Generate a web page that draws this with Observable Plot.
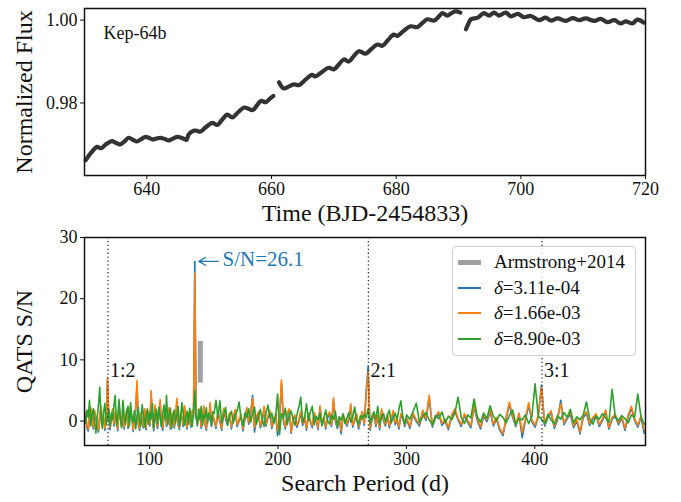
<!DOCTYPE html>
<html>
<head>
<meta charset="utf-8">
<script src="https://cdn.jsdelivr.net/npm/d3@7"></script>
<script src="https://cdn.jsdelivr.net/npm/@observablehq/plot@0.6"></script>
<style>
  html, body { margin: 0; padding: 0; background: #fff; }
  #fig { position: relative; width: 681px; height: 502px; overflow: hidden; font-family: "Liberation Serif", serif; }
  #fig > svg, #fig > figure { position: absolute; left: 0; margin: 0; }
  #legend {
    position: absolute; left: 452px; top: 246px; width: 184px; height: 110px;
    box-sizing: border-box; border: 1px solid #d0d0d0; border-radius: 4px;
    background: rgba(255,255,255,0.8); font-size: 19px; color: #111;
  }
  .row { position: absolute; left: 0; height: 24px; line-height: 24px; white-space: nowrap; }
  .swatch { position: absolute; left: 5px; width: 23px; }
  .label { position: absolute; left: 41px; top: 0; }
</style>
</head>
<body>
<div id="fig"></div>
<script>
// ---- Light curve of Kepler-64 (three continuous stretches) ----
const seg1Time = [630.2,630.8,631.4,632.0,632.7,633.5,634.4,635.0,635.7,636.4,637.1,637.8,638.4,639.1,639.8,640.3,640.9,641.5,642.2,642.9,643.5,644.2,644.9,645.5,646.0,646.4,646.7,647.5,648.0,648.6,649.5,650.5,651.3,652.1,652.9,653.7,654.6,655.6,656.3,657.0,657.7,658.3,659.1,659.7,660.3];
const seg1Flux = [0.9662,0.9675,0.9686,0.9694,0.9691,0.9701,0.9708,0.9704,0.9700,0.9707,0.9716,0.9711,0.9707,0.9713,0.9718,0.9716,0.9712,0.9714,0.9716,0.9713,0.9710,0.9714,0.9718,0.9716,0.9713,0.9711,0.9724,0.9733,0.9733,0.9731,0.9742,0.9752,0.9747,0.9760,0.9772,0.9765,0.9777,0.9789,0.9786,0.9783,0.9795,0.9805,0.9802,0.9810,0.9817];
const seg2Time = [661.2,661.6,662.0,662.8,663.6,664.4,665.5,666.5,667.0,668.1,669.2,670.0,670.8,671.6,672.4,673.2,674.0,675.1,676.0,677.0,677.8,678.7,679.6,680.2,681.2,682.3,683.4,684.2,685.0,686.1,686.8,687.4,688.2,688.8,689.5,690.3];
const seg2Flux = [0.9850,0.9840,0.9835,0.9840,0.9845,0.9843,0.9857,0.9868,0.9864,0.9875,0.9885,0.9881,0.9893,0.9905,0.9900,0.9913,0.9925,0.9919,0.9930,0.9941,0.9938,0.9952,0.9965,0.9962,0.9974,0.9985,0.9983,0.9993,1.0002,0.9999,1.0008,1.0017,1.0011,1.0016,1.0021,1.0018];
const seg3Time = [691.2,691.6,692.0,693.1,694.1,694.9,695.7,696.5,697.6,698.4,699.5,700.5,701.6,702.9,704.0,704.8,705.9,707.2,708.3,709.4,710.4,711.8,712.8,713.9,715.0,716.0,716.8,717.9,718.7,719.7];
const seg3Flux = [0.9978,0.9992,1.0002,1.0006,1.0017,1.0011,1.0018,1.0011,1.0018,1.0009,1.0015,1.0007,1.0010,1.0000,1.0006,0.9999,1.0004,0.9998,1.0005,1.0000,1.0004,0.9998,1.0003,0.9995,1.0000,0.9992,0.9997,0.9992,1.0001,0.9994];

const timeTicks = [640, 660, 680, 700, 720];
const fluxTicks = [0.98, 1.00];

// ---- QATS search: S/N versus search period for three depths ----
// The search grid is finer at short periods: 1 d below 150 d, 1.5 d to 300 d, 2.5 d beyond.
const gridPieces = [[49.2, 150, 1], [150.2, 300, 1.5], [300.2, 486, 2.5]];
const depthLabels = ["3.11e-04", "1.66e-03", "8.90e-03"];
const depthColors = ["#1f77b4", "#ff7f0e", "#2ca02c"];

const snDepth1 = [
  // 49.2 – 149.2 d
  0.2,1.1,-1.1,-1.6,0.6,1.9,0.0,-1.3,1.4,0.3,
  -1.0,-1.8,0.8,2.1,-0.5,0.5,-1.5,0.1,6.5,0.7,
  -1.4,0.3,1.7,-0.8,1.2,-0.1,-1.6,2.4,0.6,-0.9,
  1.0,-1.3,0.2,1.6,-1.2,-0.5,2.0,0.4,-1.7,0.7,
  1.8,6.0,-0.6,-1.5,1.1,0.1,-1.1,1.7,-1.4,0.6,
  1.3,-0.8,4.4,0.5,-1.6,2.3,-0.2,-1.2,0.9,3.0,
  -0.7,-1.5,0.6,1.5,-0.9,0.0,1.9,-1.3,0.3,1.1,
  -1.1,0.2,3.2,-0.6,-1.4,1.2,0.4,-0.9,2.2,-0.1,
  -1.3,1.0,0.1,-1.0,1.5,0.6,26.1,0.9,-0.8,0.5,
  1.7,-1.2,0.0,2.2,-0.7,-1.5,0.8,0.2,2.6,-0.9,0.7,
  // 150.2 – 298.7 d
  0.1,-1.2,1.3,-0.1,-1.5,1.8,0.3,-0.7,1.0,-1.3,
  0.5,1.6,-0.9,0.0,0.8,-1.6,0.2,1.9,-0.5,1.1,
  4.2,-1.8,0.4,1.2,-1.1,-0.1,2.1,-0.8,0.6,1.4,
  -1.2,0.1,0.9,-2.4,0.3,6.2,0.0,-1.3,1.0,1.7,
  -2.0,0.2,0.7,-1.0,-0.1,1.3,-0.7,0.5,-1.5,1.0,
  -0.2,-1.1,1.1,0.1,-1.4,2.2,-0.6,0.3,-1.3,0.6,
  1.2,-0.9,3.4,-0.1,-1.2,0.4,-2.1,0.8,0.0,-0.8,
  0.3,2.5,-1.0,0.1,0.9,-1.3,-0.1,1.3,-0.7,5.0,
  9.0,-1.5,0.2,1.0,-0.9,0.6,-1.4,1.7,0.0,-0.8,
  0.8,-1.1,0.3,1.4,-0.6,0.1,-1.3,0.9,0.4,-0.9,
  // 300.2 – 485.2 d
  0.3,-1.2,1.0,-0.1,-0.8,1.5,0.1,3.8,-1.0,0.5,
  1.2,-0.7,0.0,-1.4,0.7,1.7,0.2,-0.9,0.9,-0.2,
  -1.1,2.3,0.1,-1.3,0.8,-0.1,1.5,-0.8,0.3,-1.5,
  -2.4,0.4,2.7,0.6,-0.9,1.0,-2.7,0.1,2.6,-0.1,
  -1.0,0.7,5.9,-0.8,0.5,1.4,-1.2,0.2,3.4,-0.6,
  0.4,1.1,-1.1,0.0,-2.1,0.6,1.2,-0.7,0.3,0.9,
  -0.9,0.1,1.5,-1.3,0.3,0.8,-0.6,0.5,-1.5,0.7,
  2.1,0.1,-1.0,0.6,-2.0
];
const snDepth2 = [
  // 49.2 – 149.2 d
  0.5,1.4,-0.8,-1.3,0.9,2.2,0.3,-1.0,1.7,0.6,
  -0.7,-1.5,1.1,2.4,-0.2,0.8,-1.2,0.4,7.1,1.0,
  -1.1,0.6,2.0,-0.5,1.5,0.2,-1.3,2.7,0.9,-0.6,
  1.3,-1.0,0.5,1.9,-0.9,-0.2,2.3,0.7,-1.4,1.0,
  2.1,6.6,-0.3,-1.2,1.4,0.4,-0.8,2.0,-1.1,0.9,
  1.6,-0.5,5.0,0.8,-1.3,2.6,0.1,-0.9,1.2,3.5,
  -0.4,-1.2,0.9,1.8,-0.6,0.3,2.2,-1.0,0.6,1.4,
  -0.8,0.5,3.7,-0.3,-1.1,1.5,0.7,-0.6,2.5,0.2,
  -1.0,1.3,0.4,-0.7,1.8,0.9,24.2,1.2,-0.5,0.8,
  2.0,-0.9,0.3,2.5,-0.4,-1.2,1.1,0.5,3.0,-0.6,1.0,
  // 150.2 – 298.7 d
  0.4,-0.9,1.6,0.2,-1.2,2.1,0.6,-0.4,1.3,-1.0,
  0.8,1.9,-0.6,0.3,1.1,-1.3,0.5,2.2,-0.2,1.4,
  3.8,-1.1,0.7,1.5,-0.8,0.2,2.4,-0.5,0.9,1.7,
  -0.9,0.4,1.2,-1.6,0.6,6.7,0.3,-1.0,1.3,2.0,
  -1.8,0.5,1.0,-0.7,0.2,1.6,-0.4,0.8,-1.2,1.3,
  0.1,-0.8,1.4,0.4,-1.1,2.5,-0.3,0.6,-1.0,0.9,
  1.5,-0.6,3.8,0.2,-0.9,0.7,-1.6,1.1,0.3,-0.5,
  0.6,2.8,-0.7,0.4,1.2,-1.0,0.2,1.6,-0.4,4.5,
  8.0,-1.2,0.5,1.3,-0.6,0.9,-1.1,2.0,0.3,-0.5,
  1.1,-0.8,0.6,1.7,-0.3,0.4,-1.0,1.2,0.7,-0.6,
  // 300.2 – 485.2 d
  0.6,-0.9,1.3,0.2,-0.5,1.8,0.4,4.2,-0.7,0.8,
  1.5,-0.4,0.3,-1.1,1.0,2.0,0.5,-0.6,1.2,0.1,
  -0.8,2.6,0.4,-1.0,1.1,0.2,1.8,-0.5,0.6,-1.2,
  -2.1,0.7,3.1,0.9,-0.6,1.3,-1.9,0.4,3.0,0.2,
  -0.7,1.0,5.5,-0.5,0.8,1.7,-0.9,0.5,2.8,-0.3,
  0.7,1.4,-0.8,0.3,-1.8,0.9,1.5,-0.4,0.6,1.2,
  -0.6,0.4,1.8,-1.0,0.6,1.1,-0.3,0.8,-1.2,1.0,
  2.4,0.4,-0.7,0.9,-1.4
];
const snDepth3 = [
  // 49.2 – 149.2 d
  1.0,-0.4,1.8,0.6,3.4,-0.8,1.2,2.0,-0.3,-2.0,
  0.7,2.6,5.5,0.1,-1.2,1.5,2.9,-0.6,0.4,1.9,
  -0.9,1.3,0.2,2.5,4.2,-0.7,1.0,3.5,0.3,-1.1,
  3.4,0.8,-0.5,1.6,2.4,-0.9,3.0,0.5,-0.2,1.7,
  -1.3,0.9,2.2,0.0,-0.8,2.7,1.1,-1.0,0.6,2.0,
  -0.5,1.4,0.3,2.8,-1.1,0.8,1.9,-0.4,2.3,0.6,
  -0.9,1.2,2.6,0.2,4.2,-0.6,1.0,2.1,-1.2,0.7,
  1.8,-0.3,0.9,2.4,-0.8,0.5,3.0,1.2,-0.7,0.4,
  1.6,-0.5,2.1,0.3,-0.9,1.4,5.0,0.6,-0.4,1.9,
  0.2,2.4,-0.7,1.0,0.5,2.2,-0.3,1.3,0.8,-0.6,1.5,
  // 150.2 – 298.7 d
  1.2,3.4,0.5,3.3,-0.4,1.0,2.2,-0.6,0.8,1.6,
  -0.3,0.9,1.7,3.1,0.4,-0.8,1.3,0.6,2.0,-0.2,
  1.1,2.3,-0.5,0.7,1.9,0.2,-0.9,1.4,2.6,0.5,
  1.3,-0.4,0.8,4.4,-2.2,1.2,0.4,2.1,-0.6,0.9,
  1.7,0.3,-0.7,1.0,2.2,3.9,-0.2,0.6,2.8,0.1,
  1.5,2.4,-0.6,0.8,0.2,1.3,-0.8,0.5,1.8,0.0,
  -0.5,1.0,0.3,1.6,-0.9,0.7,0.2,1.2,-0.4,0.5,
  1.4,-0.2,0.6,2.3,0.1,-0.6,0.9,0.4,1.1,0.6,
  2.0,-0.4,0.8,1.5,0.3,2.4,-0.5,0.7,1.2,-0.1,
  0.9,1.8,-0.3,0.5,1.3,0.2,2.0,3.3,0.6,-0.4,
  // 300.2 – 485.2 d
  1.0,0.3,1.6,2.9,-0.2,0.6,1.4,0.2,-0.6,0.9,
  0.4,1.5,-0.3,0.8,0.2,1.2,3.9,0.6,-0.4,1.0,
  0.5,3.6,0.7,-0.2,1.3,0.4,2.5,0.8,0.1,1.1,
  0.6,-0.3,0.9,1.8,-0.5,0.4,0.2,1.0,-0.4,0.7,
  6.1,0.8,0.3,-0.4,1.1,0.2,-0.5,0.9,0.3,1.4,
  0.6,1.9,-0.3,0.7,0.2,1.0,3.1,0.4,-0.5,0.8,
  0.3,1.2,0.5,-0.2,5.2,0.6,0.1,0.9,0.4,-0.3,
  1.0,0.6,4.4,0.7,-0.5
];

// Strongest peak and its period ratios
const peakPeriod = 135.2;
const peakSN = 26.1;
const resonanceRatios = [0.5, 2, 3];
const resonanceLabels = ["1:2", "2:1", "3:1"];
const resonanceLabelSN = 8.2;

// Period and S/N range of the published planet (Armstrong et al. 2014)
const armstrongPeriod = 139.5;
const armstrongSN = [6.2, 13.0];

const periodTicks = [100, 200, 300, 400];
const snTicks = [0, 10, 20, 30];

// ---- tables for the marks ----
const lightCurve = [
  ...seg1Time.map((t, i) => ({t, f: seg1Flux[i], seg: 1})),
  ...seg2Time.map((t, i) => ({t, f: seg2Flux[i], seg: 2})),
  ...seg3Time.map((t, i) => ({t, f: seg3Flux[i], seg: 3}))
];
const periods = gridPieces.flatMap(([a, b, s]) => d3.range(a, b, s));
const spectra = [snDepth1, snDepth2, snDepth3].map(vals =>
  vals.map((sn, i) => ({period: periods[i], sn})));
const resonances = resonanceRatios.map((r, i) => ({period: peakPeriod * r, label: resonanceLabels[i]}));

const serif = "'Liberation Serif', serif";
const ink = "#111";

const topPlot = Plot.plot({
  width: 681, height: 232,
  marginTop: 8, marginBottom: 57, marginLeft: 84, marginRight: 36,
  style: {fontFamily: serif, fontSize: "18px", color: ink, background: "transparent", overflow: "visible"},
  x: {domain: [630, 720], ticks: timeTicks, tickFormat: d => String(d), tickSize: 4, tickPadding: 3, label: null},
  y: {domain: [0.9625, 1.0028], ticks: fluxTicks, tickFormat: d3.format(".2f"), tickSize: 4, tickPadding: 3, label: null},
  marks: [
    Plot.line(lightCurve, {x: "t", y: "f", z: "seg", stroke: "#333", strokeWidth: 4.2, curve: "catmull-rom", strokeLinejoin: "round", strokeLinecap: "round"}),
    Plot.frame({stroke: ink, strokeWidth: 1.5}),
    Plot.text(["Kep-64b"], {text: d => d, frameAnchor: "top-left", dx: 19, dy: 18, textAnchor: "start", fontSize: 18}),
    Plot.text(["Time (BJD-2454833)"], {text: d => d, frameAnchor: "bottom", dy: 45, fontSize: 24}),
    Plot.text(["Normalized Flux"], {text: d => d, frameAnchor: "left", dx: -60, rotate: -90, textAnchor: "middle", fontSize: 24})
  ]
});
topPlot.style.top = "0px";

const bottomPlot = Plot.plot({
  width: 681, height: 276,
  marginTop: 11, marginBottom: 57, marginLeft: 84, marginRight: 36,
  style: {fontFamily: serif, fontSize: "18px", color: ink, background: "transparent", overflow: "visible"},
  x: {domain: [49.3, 486.2], ticks: periodTicks, tickFormat: d => String(d), tickSize: 4, tickPadding: 3, label: null},
  y: {domain: [-4, 30], ticks: snTicks, tickFormat: d => String(d), tickSize: 4, tickPadding: 3, label: null},
  marks: [
    Plot.ruleX([armstrongPeriod], {x: d => d, y1: armstrongSN[0], y2: armstrongSN[1], stroke: "#a0a0a0", strokeWidth: 5}),
    ...spectra.map((rows, k) => Plot.line(rows, {x: "period", y: "sn", stroke: depthColors[k], strokeWidth: 1.6, clip: true})),
    Plot.ruleX(resonances, {x: "period", stroke: "#333", strokeWidth: 1.3, strokeDasharray: "1.3,2.6"}),
    Plot.text(resonances, {x: "period", y: resonanceLabelSN, text: "label", textAnchor: "start", dx: 2, fontSize: 20}),
    Plot.arrow([{period: peakPeriod, sn: peakSN}], {x1: d => d.period + 18.5, y1: "sn", x2: "period", y2: "sn", insetEnd: 4, headLength: 9, stroke: "#1f77b4", strokeWidth: 1.3}),
    Plot.text([{period: peakPeriod, sn: peakSN}], {x: d => d.period + 21.6, y: "sn", text: d => `S/N=${d.sn.toFixed(1)}`, textAnchor: "start", fill: "#1f77b4", fontSize: 21, dy: -2}),
    Plot.frame({stroke: ink, strokeWidth: 1.5}),
    Plot.text(["Search Period (d)"], {text: d => d, frameAnchor: "bottom", dy: 45, fontSize: 24}),
    Plot.text(["QATS S/N"], {text: d => d, frameAnchor: "left", dx: -60, rotate: -90, textAnchor: "middle", fontSize: 24})
  ]
});
bottomPlot.style.top = "226px";

const fig = document.getElementById("fig");
fig.appendChild(topPlot);
fig.appendChild(bottomPlot);

// Legend box over the lower panel
const legend = document.createElement("div");
legend.id = "legend";
const entries = [
  {color: "#a0a0a0", width: 5, html: "Armstrong+2014"},
  ...depthLabels.map((d, k) => ({color: depthColors[k], width: 2, html: `<i>δ</i>=${d}`}))
];
entries.forEach((e, k) => {
  const row = document.createElement("div");
  row.className = "row";
  row.style.top = (3 + k * 25.5) + "px";
  row.style.width = "100%";
  row.innerHTML = `<span class="swatch" style="background:${e.color};height:${e.width}px;top:${12 - e.width / 2}px"></span><span class="label">${e.html}</span>`;
  legend.appendChild(row);
});
fig.appendChild(legend);
</script>
</body>
</html>
